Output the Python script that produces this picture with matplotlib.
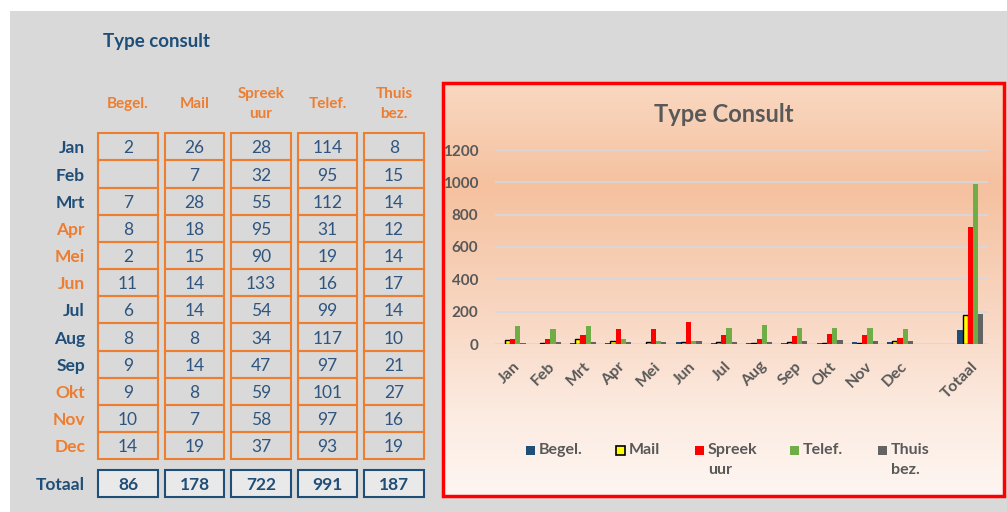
import numpy as np
import matplotlib.pyplot as plt
from matplotlib.patches import Rectangle
from matplotlib.colors import LinearSegmentedColormap

plt.rcParams['font.family'] = ['Lato', 'DejaVu Sans']

# data
months = ['Jan', 'Feb', 'Mrt', 'Apr', 'Mei', 'Jun', 'Jul', 'Aug', 'Sep', 'Okt', 'Nov', 'Dec']
series = ['Begel.', 'Mail', 'Spreek\nuur', 'Telef.', 'Thuis\nbez.']
begel = [2, None, 7, 8, 2, 11, 6, 8, 9, 9, 10, 14]
mail = [26, 7, 28, 18, 15, 14, 14, 8, 14, 8, 7, 19]
spreek = [28, 32, 55, 95, 90, 133, 54, 34, 47, 59, 58, 37]
telef = [114, 95, 112, 31, 19, 16, 99, 117, 97, 101, 97, 93]
thuis = [8, 15, 14, 12, 14, 17, 14, 10, 21, 27, 16, 19]
totals = [86, 178, 722, 991, 187]

W, H = 1007, 512
fig = plt.figure(figsize=(W / 100, H / 100), dpi=100, facecolor='white')

# pixel-coordinate background axes
bg = fig.add_axes([0, 0, 1, 1])
bg.set_xlim(0, W)
bg.set_ylim(H, 0)
bg.axis('off')
bg.add_patch(Rectangle((10, 11), W, H, facecolor='#d9d9d9', edgecolor='none'))

blue = '#1f4e79'
valblue = '#2e5580'
orange = '#ed7d31'
gray = '#595959'

# table
bg.text(103, 42, 'Type consult', fontsize=13.5, fontweight='bold', color=blue, va='center')
col_x = [98.3 + 66.5 * i for i in range(5)]
cw = 59.5
row_top = 133.3
rh = 27.17
month_colors = [blue] * 3 + [orange] * 3 + [blue] * 3 + [orange] * 3

for j, name in enumerate(series):
    bg.text(col_x[j] + cw / 2, 104, name, fontsize=11, fontweight='bold', color=orange,
            ha='center', va='center', linespacing=1.6)

cols = [begel, mail, spreek, telef, thuis]
for i, m in enumerate(months):
    y0 = row_top + rh * i
    bg.text(85, y0 + rh / 2 + 1.5, m, fontsize=12.5, fontweight='bold', color=month_colors[i],
            ha='right', va='center')
    for j, col in enumerate(cols):
        bg.add_patch(Rectangle((col_x[j], y0), cw, rh, facecolor='none', edgecolor=orange, lw=1.5))
        v = col[i]
        if v is not None:
            bg.text(col_x[j] + cw / 2, y0 + rh / 2 + 1.5, str(v), fontsize=12.5, color=valblue,
                    ha='center', va='center')

bg.text(85, 485, 'Totaal', fontsize=12.5, fontweight='bold', color=blue, ha='right', va='center')
for j, t in enumerate(totals):
    bg.add_patch(Rectangle((col_x[j], 469.5), cw, 27.5, facecolor='#e9e9e9', edgecolor=blue, lw=1.5))
    bg.text(col_x[j] + cw / 2, 485, str(t), fontsize=12.5, fontweight='bold', color=blue,
            ha='center', va='center')

# chart frame with gradient
cx0, cx1, cy0, cy1 = 443, 1004, 83, 496
grad = LinearSegmentedColormap.from_list('peach', [
    (0.0, '#f9d8c1'), (0.25, '#f5c19f'), (0.55, '#f8d6c1'), (0.8, '#fcebe1'), (1.0, '#fef6f2')])
bg.imshow(np.linspace(0, 1, 256).reshape(-1, 1), cmap=grad, aspect='auto',
          extent=(cx0, cx1, cy1, cy0), zorder=1)
bg.add_patch(Rectangle((cx0, cy0), cx1 - cx0, cy1 - cy0, facecolor='none', edgecolor='#ff0000',
                       lw=2.5, zorder=3))
bg.text((cx0 + cx1) / 2, 114, 'Type Consult', fontsize=17, fontweight='bold', color=gray,
        ha='center', va='center', zorder=4)

# bar chart
ax = fig.add_axes([495 / W, (H - 344) / H, 493 / W, 194 / H])
ax.set_facecolor('none')
cats = months + ['', 'Totaal']
x = np.arange(len(cats))
colors = ['#1f4e79', '#ffff00', '#ff0000', '#70ad47', '#636363']
edges = ['none', 'black', 'none', 'none', 'none']
bw = 0.148
for j, col in enumerate(cols):
    vals = [np.nan if v is None else v for v in col] + [np.nan, totals[j]]
    ax.bar(x + (j - 2) * bw, vals, bw, color=colors[j], edgecolor=edges[j],
           linewidth=1.0 if edges[j] != 'none' else 0, zorder=3)

ax.set_xlim(-0.5, len(cats) - 0.5)
ax.set_ylim(0, 1200)
ax.set_yticks(range(0, 1201, 200))
ax.grid(axis='y', color='#d3d9e0', lw=1.2, zorder=0)
for s in ax.spines.values():
    s.set_visible(False)
ax.tick_params(axis='y', length=0, labelsize=11, labelcolor=gray, pad=12)
ax.tick_params(axis='x', length=0, labelsize=11.5, labelcolor=gray, pad=11)
ax.set_xticks(x)
ax.set_xticklabels(cats, rotation=45, ha='right', rotation_mode='anchor', fontweight='bold')
for lbl in ax.get_yticklabels():
    lbl.set_fontweight('bold')

# legend (handle aligned with first text line, as in the original)
leg_x = [526, 616, 695, 790, 878]
for j, name in enumerate(series):
    bg.add_patch(Rectangle((leg_x[j], 445.5), 9, 9, facecolor=colors[j],
                           edgecolor='black' if edges[j] != 'none' else colors[j],
                           lw=1.2 if edges[j] != 'none' else 0, zorder=4))
    bg.text(leg_x[j] + 13, 443, name, fontsize=11.5, fontweight='bold', color=gray,
            ha='left', va='top', linespacing=1.55, zorder=4)

fig.savefig('out.png', dpi=100, facecolor='white')
